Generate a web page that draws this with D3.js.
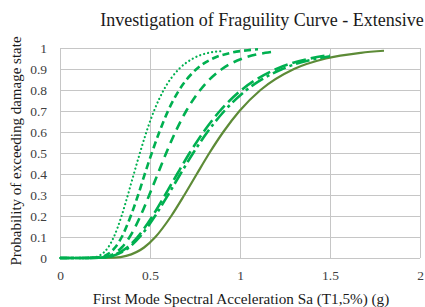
<!DOCTYPE html>
<html>
<head>
<meta charset="utf-8">
<script src="https://cdn.jsdelivr.net/npm/d3@7"></script>
<style>
  body { margin: 0; background: #fff; }
  text { font-family: "Liberation Serif", "Times New Roman", serif; }
</style>
</head>
<body>
<svg id="chart"></svg>
<script>
// values (Sa in g, probability of exceedance)
const dottedSa = [0, 0.1, 0.182, 0.216, 0.267, 0.299, 0.342, 0.377, 0.410, 0.444, 0.480, 0.522, 0.576, 0.661, 0.739, 0.825, 0.9]
const dottedP  = [0, 0, 0.002, 0.01, 0.05, 0.1, 0.2, 0.3, 0.4, 0.5, 0.6, 0.7, 0.8, 0.9, 0.95, 0.977, 0.985]

const shortDashSa = [0, 0.1, 0.209, 0.248, 0.306, 0.343, 0.393, 0.434, 0.471, 0.51, 0.552, 0.600, 0.662, 0.759, 0.849, 0.948, 1.049, 1.1]
const shortDashP  = [0, 0, 0.002, 0.01, 0.05, 0.1, 0.2, 0.3, 0.4, 0.5, 0.6, 0.7, 0.8, 0.9, 0.95, 0.977, 0.99, 0.994]

const dashSa = [0, 0.1, 0.228, 0.274, 0.343, 0.387, 0.447, 0.496, 0.543, 0.59, 0.641, 0.701, 0.779, 0.900, 1.015, 1.141, 1.2]
const dashP  = [0, 0, 0.002, 0.01, 0.05, 0.1, 0.2, 0.3, 0.4, 0.5, 0.6, 0.7, 0.8, 0.9, 0.95, 0.977, 0.984]

const longDashDotSa = [0, 0.1, 0.234, 0.292, 0.383, 0.443, 0.528, 0.600, 0.669, 0.74, 0.819, 0.913, 1.036, 1.235, 1.428, 1.5]
const longDashDotP  = [0, 0, 0.002, 0.01, 0.05, 0.1, 0.2, 0.3, 0.4, 0.5, 0.6, 0.7, 0.8, 0.9, 0.95, 0.961]

const longDashSa = [0, 0.1, 0.228, 0.284, 0.373, 0.431, 0.514, 0.584, 0.651, 0.72, 0.797, 0.888, 1.008, 1.202, 1.390, 1.5]
const longDashP  = [0, 0, 0.002, 0.01, 0.05, 0.1, 0.2, 0.3, 0.4, 0.5, 0.6, 0.7, 0.8, 0.9, 0.95, 0.967]

const solidSa = [0, 0.15, 0.303, 0.368, 0.467, 0.530, 0.618, 0.691, 0.760, 0.83, 0.907, 0.997, 1.114, 1.300, 1.477, 1.671, 1.8]
const solidP  = [0, 0, 0.002, 0.01, 0.05, 0.1, 0.2, 0.3, 0.4, 0.5, 0.6, 0.7, 0.8, 0.9, 0.95, 0.977, 0.987]

const xTicks = [0, 0.5, 1, 1.5, 2]
const yTicks = [0, 0.1, 0.2, 0.3, 0.4, 0.5, 0.6, 0.7, 0.8, 0.9, 1]

const width = 425, height = 307
const margin = { top: 48, right: 5, bottom: 49, left: 60 }
const green = "#00b050", olive = "#5d8b37", grid = "#c6c6c6"

const svg = d3.select('#chart').attr("width", width).attr("height", height)

const x = d3.scaleLinear().domain([0, 2]).range([margin.left, width - margin.right])
const y = d3.scaleLinear().domain([0, 1]).range([height - margin.bottom, margin.top])

// gridlines
svg.append("g").selectAll("line").data(yTicks).join("line")
    .attr("x1", x(0)).attr("x2", x(2))
    .attr("y1", d => y(d)).attr("y2", d => y(d))
    .attr("stroke", grid).attr("stroke-width", 1).attr("shape-rendering", "crispEdges")
svg.append("g").selectAll("line").data(xTicks).join("line")
    .attr("x1", d => x(d)).attr("x2", d => x(d))
    .attr("y1", y(0)).attr("y2", y(1))
    .attr("stroke", grid).attr("stroke-width", 1).attr("shape-rendering", "crispEdges")

// axes (labels only)
const xAxis = svg.append("g").attr("transform", `translate(0, ${y(0)})`)
    .call(d3.axisBottom(x).tickValues(xTicks).tickSize(0).tickPadding(12).tickFormat(d3.format("")))
const yAxis = svg.append("g").attr("transform", `translate(${margin.left}, 0)`)
    .call(d3.axisLeft(y).tickValues(yTicks).tickSize(0).tickPadding(13).tickFormat(d3.format("")))
for (const a of [xAxis, yAxis]) {
    a.select(".domain").remove()
    a.selectAll("text").attr("font-size", 13.5).attr("fill", "#404040")
        .style("font-family", "'Liberation Serif', serif")
}

const line = d3.line().x(d => x(d[0])).y(d => y(d[1])).curve(d3.curveMonotoneX)
const zip = (a, b) => a.map((v, i) => [v, b[i]])

const series = [
    { pts: zip(solidSa, solidP), color: olive, w: 2.2, dash: null, cap: "butt" },
    { pts: zip(longDashSa, longDashP), color: green, w: 2.6, dash: "14 5", cap: "butt" },
    { pts: zip(longDashDotSa, longDashDotP), color: green, w: 2.6, dash: "14 4 3 4", cap: "butt" },
    { pts: zip(dashSa, dashP), color: green, w: 2.6, dash: "9 6", cap: "butt" },
    { pts: zip(shortDashSa, shortDashP), color: green, w: 2.6, dash: "7 4", cap: "butt" },
    { pts: zip(dottedSa, dottedP), color: green, w: 2.2, dash: "0.1 4", cap: "round" },
]

svg.append("g").selectAll("path").data(series).join("path")
    .attr("d", d => line(d.pts))
    .attr("fill", "none")
    .attr("stroke", d => d.color)
    .attr("stroke-width", d => d.w)
    .attr("stroke-dasharray", d => d.dash)
    .attr("stroke-linecap", d => d.cap)

// titles
svg.append("text").attr("x", 262).attr("y", 26).attr("text-anchor", "middle")
    .attr("font-size", 18).attr("fill", "#1a1a1a")
    .text("Investigation of Fraguility  Curve - Extensive")
svg.append("text").attr("x", 241).attr("y", 304).attr("text-anchor", "middle")
    .attr("font-size", 15.2).attr("fill", "#1a1a1a")
    .text("First Mode Spectral Acceleration Sa (T1,5%) (g)")
svg.append("text").attr("transform", `translate(21, 151) rotate(-90)`).attr("text-anchor", "middle")
    .attr("font-size", 15).attr("fill", "#1a1a1a")
    .text("Probability of exceeding damage state")
</script>
</body>
</html>
